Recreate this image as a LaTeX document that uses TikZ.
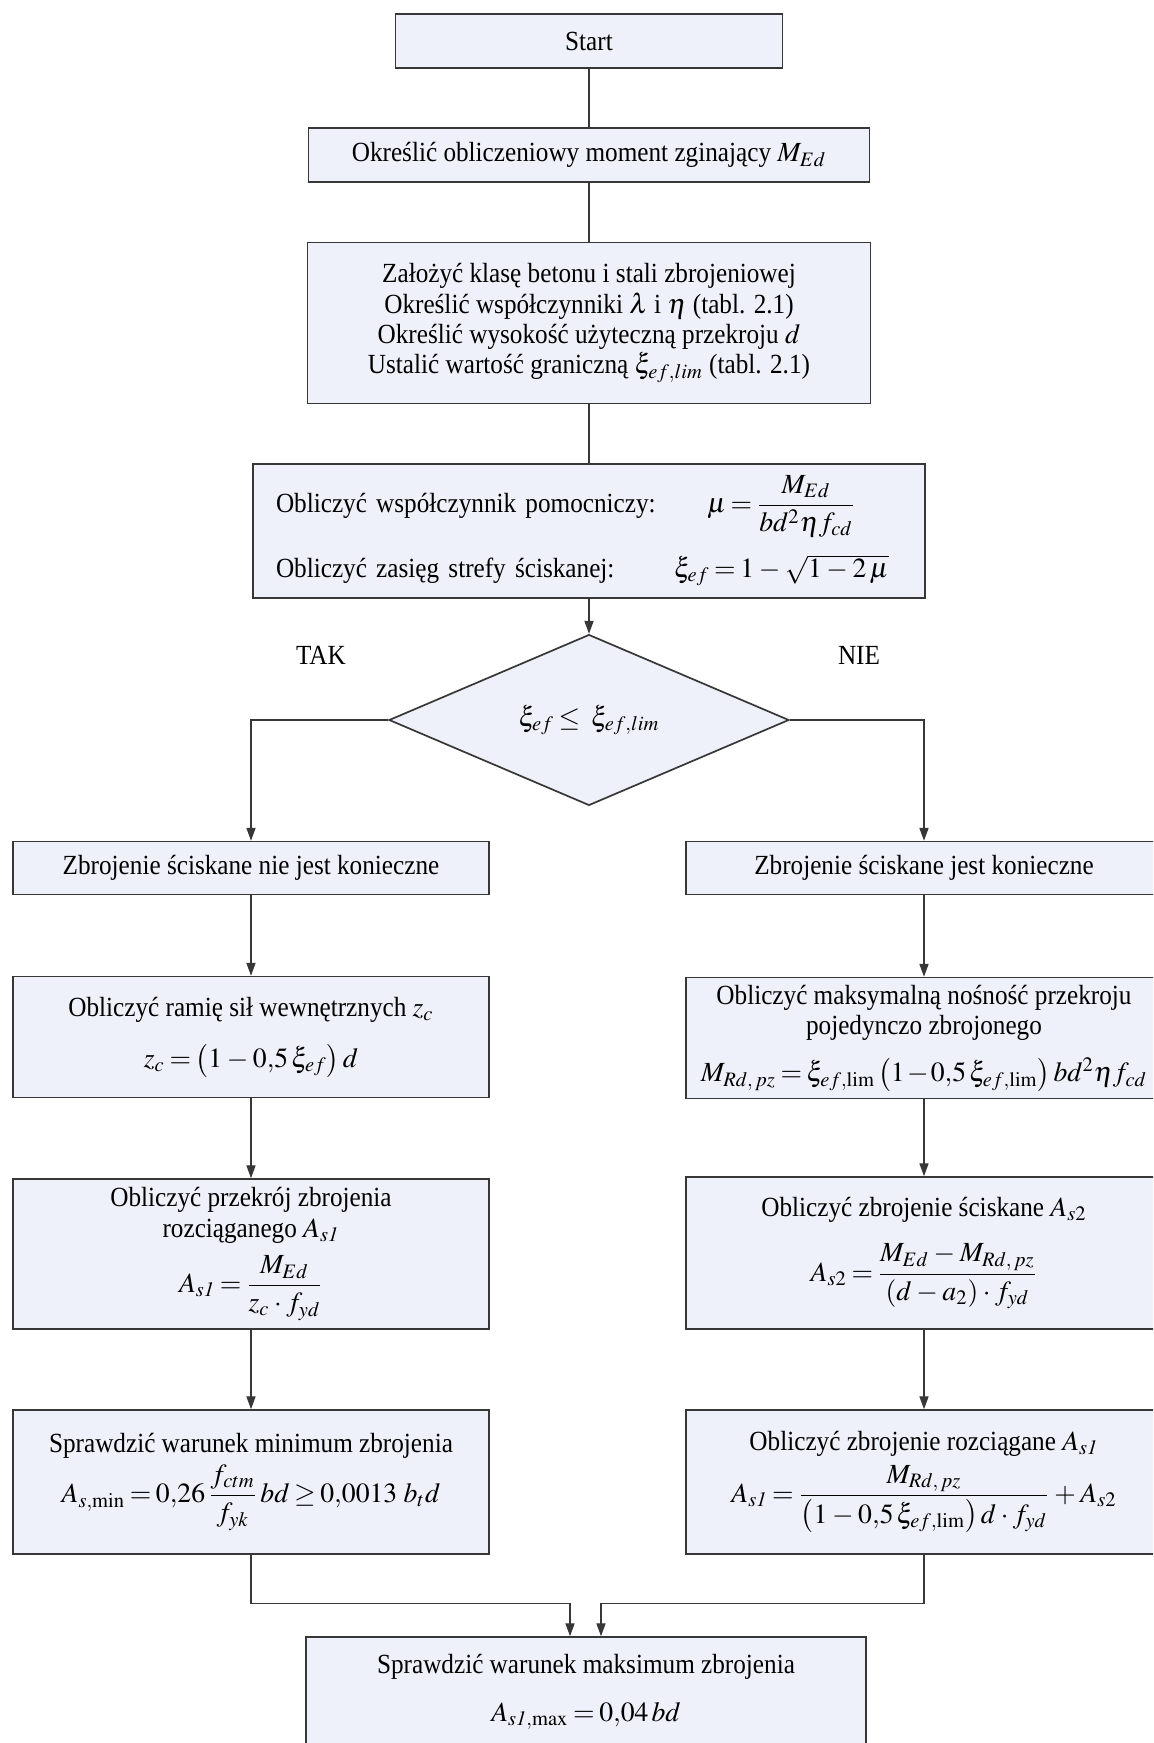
\documentclass[tikz,border=0pt]{standalone}
\usepackage{amsmath}
\usepackage{mathptmx}
\usepackage{fontspec}
\setmainfont{Liberation Serif}[FakeStretch=0.91]
\usetikzlibrary{shapes.geometric,arrows.meta}
\newlength\pu
\setlength\pu{0.0165cm}
\definecolor{tlo}{RGB}{238,241,249}
\definecolor{lin}{RGB}{55,55,55}
\thickmuskip=3mu plus 2mu
\medmuskip=3mu plus 1mu
\tikzset{
  blok/.style={draw=lin, fill=tlo, line width=0.8pt, align=center, inner sep=0pt,
    font=\fontsize{13}{14.2}\selectfont},
  kol/.style={blok, minimum width=476\pu},
  strz/.style={draw=lin, line width=0.5pt, -{Triangle[length=2.1mm,width=1.5mm]}},
  lin2/.style={draw=lin, line width=0.5pt}
}
\begin{document}
\begin{tikzpicture}[x=0.0165cm, y=-0.0165cm]
    \useasboundingbox (0,0) rectangle (1153,1743);
    \fill [white] (0,0) rectangle (1153,1743);
    \clip (0,0) rectangle (1153,1743);
    % main column
    \node [blok, minimum width=387\pu, minimum height=54\pu] (start) at (589,41) {Start};
    \node [blok, minimum width=561\pu, minimum height=54\pu] (med) at (589,155)
        {Określić obliczeniowy moment zginający $M_{Ed}$};
    \node [blok, minimum width=563\pu, minimum height=161\pu] (zal) at (589,323)
        {Założyć klasę betonu i stali zbrojeniowej\\
         Określić współczynniki $\lambda$ i $\eta$ (tabl. 2.1)\\
         Określić wysokość użyteczną przekroju $d$\\
         Ustalić wartość graniczną $\xi_{ef,lim}$ (tabl. 2.1)};
    \node [blok, minimum width=672\pu, minimum height=134\pu, text width=626\pu, align=left] (pom) at (589,531)
        {\begin{tabular}{@{}p{398\pu}@{}c@{}}
         Obliczyć współczynnik pomocniczy: & $\mu=\dfrac{M_{Ed}}{bd^2\eta f_{cd}}$\\[16pt]
         Obliczyć zasięg strefy ściskanej: & $\xi_{ef}=1-\sqrt{1-2\,\mu}$
         \end{tabular}};
    \node [blok, shape=diamond, minimum width=400\pu, minimum height=162\pu] (war) at (589,720)
        {\raisebox{-4pt}{$\xi_{ef}\le\ \xi_{ef,lim}$}};
    \node [font=\fontsize{13}{14.2}\selectfont] (tak) at (321,655) {TAK};
    \node [font=\fontsize{13}{14.2}\selectfont] (nie) at (859,655) {NIE};
    % left column
    \node [kol, minimum height=53\pu] (l1) at (251,868) {Zbrojenie ściskane nie jest konieczne};
    \node [kol, minimum height=121\pu] (l2) at (251,1037)
        {Obliczyć ramię sił wewnętrznych $z_c$\\[10pt]
         $z_c=\left(1-0{,}5\,\xi_{ef}\right)d$};
    \node [kol, minimum height=150\pu] (l3) at (251,1254)
        {Obliczyć przekrój zbrojenia\\
         rozciąganego $A_{s\mathit{1}}$\\[5pt]
         $A_{s\mathit{1}}=\dfrac{M_{Ed}}{z_c\cdot f_{yd}}$};
    \node [kol, minimum height=144\pu] (l4) at (251,1482)
        {Sprawdzić warunek minimum zbrojenia\\[2pt]
         $A_{s,\min}=0{,}26\,\dfrac{f_{ctm}}{f_{yk}}\,bd\ge 0{,}0013\ b_t d$};
    % right column
    \node [kol, minimum height=53\pu] (p1) at (924,868) {Zbrojenie ściskane jest konieczne};
    \node [kol, minimum height=121\pu] (p2) at (924,1038)
        {Obliczyć maksymalną nośność przekroju\\
         pojedynczo zbrojonego\\[8pt]
         $\medmuskip=1.5mu M_{Rd,\,pz}=\xi_{ef,\lim}\left(1-0{,}5\,\xi_{ef,\lim}\right)bd^2\eta f_{cd}$};
    \node [kol, minimum height=152\pu] (p3) at (924,1253)
        {Obliczyć zbrojenie ściskane $A_{s2}$\\[9pt]
         $A_{s2}=\dfrac{M_{Ed}-M_{Rd,\,pz}}{\left(d-a_2\right)\cdot f_{yd}}$};
    \node [kol, minimum height=144\pu] (p4) at (924,1482)
        {Obliczyć zbrojenie rozciągane $A_{s\mathit{1}}$\\[3pt]
         $A_{s\mathit{1}}=\dfrac{M_{Rd,\,pz}}{\left(1-0{,}5\,\xi_{ef,\lim}\right)d\cdot f_{yd}}+A_{s2}$};
    % end
    \node [blok, minimum width=560\pu, minimum height=110\pu] (kon) at (586,1692)
        {Sprawdzić warunek maksimum zbrojenia\\[8pt]
         $A_{s\mathit{1},\max}=0{,}04\,bd$};
    % connectors
    \draw [lin2] (start) -- (med);
    \draw [lin2] (med) -- (zal);
    \draw [lin2] (zal) -- (pom);
    \draw [strz] (pom) -- (war);
    \draw [strz] (war.west) -| (l1);
    \draw [strz] (war.east) -| (p1);
    \foreach \a/\b in {l1/l2,l2/l3,l3/l4,p1/p2,p2/p3,p3/p4}
        \draw [strz] (\a) -- (\b);
    \draw [strz] (l4) |- ([xshift=-16\pu,yshift=33\pu]kon.north) -- ([xshift=-16\pu]kon.north);
    \draw [strz] (p4) |- ([xshift=15\pu,yshift=33\pu]kon.north) -- ([xshift=15\pu]kon.north);
\end{tikzpicture}
\end{document}
